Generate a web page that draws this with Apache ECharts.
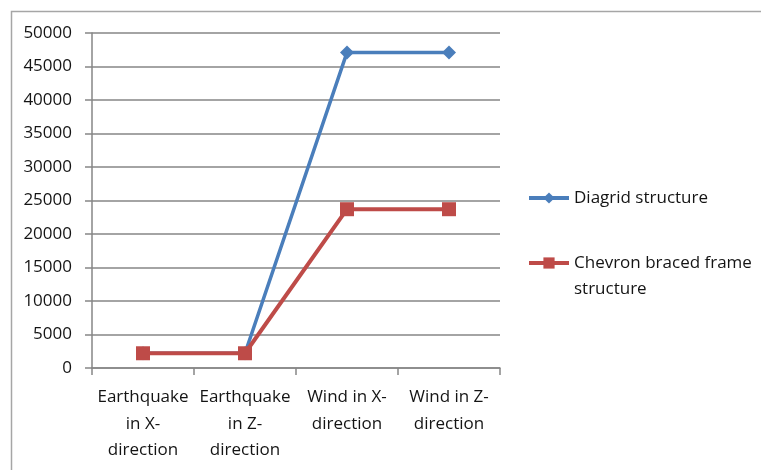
<!DOCTYPE html>
<html>
<head>
<meta charset="utf-8">
<script src="https://cdn.jsdelivr.net/npm/echarts@6/dist/echarts.min.js"></script>
<style>html,body{margin:0;padding:0;background:#fff;}#c{width:761px;height:470px;}</style>
</head>
<body>
<div id="c"></div>
<script>
const categories = ["Earthquake\nin X-\ndirection", "Earthquake\nin Z-\ndirection", "Wind in X-\ndirection", "Wind in Z-\ndirection"];
const diagrid = [2200, 2200, 47100, 47100];
const chevron = [2200, 2200, 23700, 23700];
const seriesNames = ["Diagrid structure", "Chevron braced frame structure"];
const legendLabels = ["Diagrid structure", "\nChevron braced frame\nstructure"];
const yTicks = { min: 0, max: 50000, interval: 5000 };

const chart = echarts.init(document.getElementById('c'));
const font = "'Open Sans', 'Noto Sans', sans-serif";
const txt = '#141414';
chart.setOption({
  animation: false,
  backgroundColor: '#fff',
  textStyle: { fontFamily: font },
  graphic: [{
    type: 'rect', left: 9, top: 9, shape: { x: 0, y: 0, width: 800, height: 500 },
    style: { fill: 'none', stroke: '#a6a6a6', lineWidth: 1.5 }, silent: true, z: -1
  }],
  grid: { left: 92, right: 261, top: 33, bottom: 102 },
  legend: {
    orient: 'vertical', left: 527, top: 185, padding: 0, itemGap: 13, itemWidth: 40, itemHeight: 14,
    lineStyle: { width: 4 },
    textStyle: { fontFamily: font, fontSize: 17, color: txt, lineHeight: 26 },
    formatter: function (n) { return legendLabels[seriesNames.indexOf(n)]; },
    data: seriesNames
  },
  xAxis: {
    type: 'category', data: categories, boundaryGap: true,
    axisLine: { lineStyle: { color: '#868686', width: 1.5 } },
    axisTick: { show: true, length: 7, lineStyle: { color: '#868686', width: 1.5 } },
    axisLabel: { interval: 0, fontFamily: font, fontSize: 17, color: txt, lineHeight: 26.5, margin: 16 }
  },
  yAxis: {
    type: 'value', min: yTicks.min, max: yTicks.max, interval: yTicks.interval,
    axisLine: { show: true, lineStyle: { color: '#868686', width: 1.5 } },
    axisTick: { show: true, length: 7, lineStyle: { color: '#868686', width: 1.5 } },
    axisLabel: { fontFamily: font, fontSize: 17, color: txt, margin: 20, formatter: function (v) { return String(v); } },
    splitLine: { lineStyle: { color: '#868686', width: 1.5 } }
  },
  series: [
    { name: seriesNames[0], type: 'line', data: diagrid, symbol: 'diamond', symbolSize: 14,
      lineStyle: { color: '#4a7ebb', width: 3.5 }, itemStyle: { color: '#4a7ebb' }, z: 2 },
    { name: seriesNames[1], type: 'line', data: chevron, symbol: 'rect', symbolSize: 14,
      lineStyle: { color: '#be4b48', width: 4 }, itemStyle: { color: '#be4b48' }, z: 3 }
  ]
});
</script>
</body>
</html>
